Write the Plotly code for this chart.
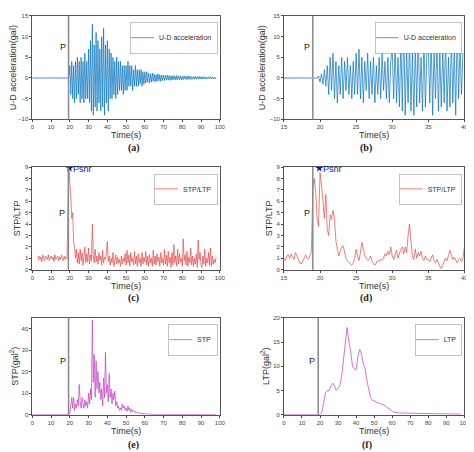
import numpy as np
import plotly.graph_objects as go

# (a) U-D acceleration, 0.5 s steps from 19.5 s
acc_a = [0, 3, -4, 4, -5, 3, -6, 4, -5, 5, -4, 4, -6, 5, -5, 4, -6, 6, -5, 4, -5,
         7, -6, 9, -8, 13, -9, 8, -7, 11, -8, 9, -6, 7, -8, 10, -7, 12, -9, 8, -6,
         9, -8, 7, -5, 6, -5, 5, -4, 4, -5, 5, -4, 4, -3, 4, -3, 3, -4, 3, -3,
         3, -3, 4, -2, 3, -2, 3, -3, 2, -2, 3, -2, 2, -2, 2, -1.5, 2, -2, 1.5, -1.5,
         1.5, -1.2, 1.5, -1, 1.2, -1.2, 1, -1, 1.2, -0.8, 1, -1, 0.8, -0.8, 1, -0.7, 0.8, -0.8, 0.7, -0.6,
         0.7, -0.6, 0.6, -0.5, 0.7, -0.5, 0.6, -0.6, 0.5, -0.5, 0.6, -0.4, 0.5, -0.5, 0.6, -0.4,
         0.5, -0.4, 0.5, -0.5, 0.4, -0.4, 0.5, -0.3, 0.4, -0.4, 0.5, -0.3, 0.4, -0.4, 0.3, -0.3,
         0.4, -0.3, 0.4, -0.3, 0.3, -0.3, 0.4, -0.2, 0.3, -0.3, 0.3, -0.2, 0.3, -0.3, 0.2, -0.2,
         0.3, -0.2, 0.3, -0.2, 0.2, -0.2, 0.2, -0.2, 0.2]
# (b) zoom, 0.2 s steps from 19.6 s
acc_b = [0, 0.5, -1, 1, -1.5, 2, -2,
         3, -4, 5, -3, 6, -5, 4, -6, 3, -4, 5, -5, 4, -3, 5, -4, 3, -5, 4, -4,
         6, -4, 7, -5, 5, -6, 4, -3, 6, -5, 4, -4, 5, -6, 3, -4, 5, -5, 6, -3, 4, -5, 5, -6, 4,
         7, -5, 8, -6, 5, -7, 9, -8, 13, -9, 7, -6, 10, -8, 6, -9, 8, -7, 11, -6, 5, -8, 9, -7, 6,
         8, -6, 10, -9, 7, -5, 9, -8, 6, -7, 8, -6, 10, -8, 5, -7, 9, -6, 7, -9, 12, -5, 8, -4, 6]
# (c) STP/LTP, 0.5 s steps from 3 s
ratio_c = [0.8, 1.2, 0.9, 1.1, 0.7, 1.3, 1.0, 0.8, 1.2, 1.1, 0.9, 1.3, 0.8, 1.0, 1.2, 0.9,
           1.1, 0.7, 1.3, 0.9, 1.0, 1.2, 0.8, 1.1, 0.9, 1.3, 1.0, 0.8, 1.2, 0.9, 1.1, 1.0,
           5.5, 9, 7.5, 6.5, 4.5, 5, 2.5, 2, 1, 1.8, 0.6, 1.5,
           0.5, 1.8, 0.8, 1.5, 0.4, 1.2, 2.0, 0.6, 1.4, 0.7, 1.9, 0.5, 1.3, 0.8, 4.0, 1.2, 0.6, 1.8, 0.7, 1.2,
           0.5, 1.5, 0.8, 1.2, 0.4, 1.7, 0.6, 1.1, 0.9, 1.4, 2.5, 0.7, 1.2, 0.4, 1.0, 0.6, 1.5, 0.3,
           0.9, 1.3, 0.5, 1.1, 0.6, 0.9, 0.3, 1.2, 0.5, 1.0, 0.7, 1.4,
           0.4, 1.7, 0.6, 1.3, 0.3, 1.5, 0.7, 1.0, 0.4, 1.6, 0.5, 1.2, 0.3, 1.4, 0.6, 1.0, 0.3, 1.5, 0.5, 1.1,
           0.7, 1.6, 0.4, 1.2, 0.3, 1.3, 0.6, 1.0, 0.3, 1.7, 0.5, 1.2, 0.4, 1.4, 0.7, 1.1, 0.3, 1.5, 0.6, 1.0,
           0.4, 1.8, 0.5, 1.3, 0.3, 1.6, 0.6, 1.1, 0.2, 1.5, 0.4, 2.2, 0.6, 1.2, 0.3, 1.8, 0.5, 1.4, 0.7,
           1.0, 0.3, 2.7, 0.8, 1.3, 0.4, 1.6, 0.3, 1.1, 0.6, 1.9, 0.4, 1.2, 0.3, 1.0, 0.5, 1.4, 0.2, 2.6,
           0.9, 1.5, 0.4, 0.2, 1.2, 0.5, 1.8, 0.3, 1.0, 0.6, 1.5, 0.4, 1.9, 0.3, 1.2, 0.5, 0.9, 0.6, 1.1]
# (d) zoom, 0.2 s steps from 15 s
ratio_d = [1.0, 0.8, 1.2, 1.3, 1.0, 1.4, 1.1, 0.9, 1.5, 1.2, 0.8, 0.6, 0.5, 0.7, 1.0, 1.3, 1.0, 0.9, 1.2, 1.6,
           7.0, 8.0, 6.8, 4.5, 3.8, 8.5, 7.5, 5.5, 4.5, 6.6, 3.5, 3.0, 4.8, 4.4, 5.2,
           4.5, 2.5, 1.8, 1.2, 1.6, 2.0, 2.1, 1.5, 1.0, 0.8, 0.6, 0.5, 0.4, 0.6, 1.0,
           1.8, 1.2, 0.8, 1.5, 2.4, 1.8, 1.2, 1.0, 0.8, 0.9, 1.2, 0.7, 0.6, 0.4, 0.6, 0.8, 0.7, 0.9, 0.8, 1.0,
           1.4, 1.2, 1.6, 1.3, 2.0,
           1.2, 0.9, 1.4, 1.7, 1.0, 1.5, 1.8, 2.0, 1.4, 2.0, 1.5, 3.0, 4.0, 2.5, 1.2, 0.9, 1.8, 1.0, 1.5, 1.2,
           1.6, 1.0, 0.8, 1.2, 0.9,
           0.9, 0.7, 1.0, 1.3, 0.8, 0.6, 0.9, 0.5, 0.3, 0.1, 0.4, 0.7, 1.0, 0.8, 1.2, 1.7, 1.3, 0.9, 1.1, 0.8,
           0.6, 0.9, 1.0, 0.7, 1.0, 2.0]
# (e) STP, 0.5 s steps from 19.5 s
stp = [0, 1, 6, 8, 3, 8, 2, 5, 3, 7, 4,
       14, 6, 3, 8, 5, 3, 7, 4, 6, 3,
       10, 5, 12, 7, 44, 15, 28, 8, 25, 12,
       20, 10, 15, 7, 12, 4, 17, 8, 29, 10,
       14, 6, 19, 8, 12, 5, 10, 7, 11, 4,
       6, 3, 4, 2, 3, 2, 5, 3, 4, 2,
       3, 1.5, 4, 2, 3, 1, 2.5, 1.5, 2, 1, 1.5, 0.8, 1.2, 0.6, 1, 0.5, 0.8, 0.4, 0.6, 0.3,
       0.5, 0.3, 0.4, 0.2, 0.3, 0.2, 0.2, 0.1, 0.2, 0.1, 0.1, 0.1, 0.1, 0.05, 0.05, 0.05, 0.05, 0.03, 0.03, 0.02]
# (f) LTP, 1 s steps from 19 s
ltp = [0, 0, 0.5, 2.5, 4.5, 5, 5, 5.8, 6.5, 6, 5, 5.5, 6, 8, 11, 14, 18, 15, 13, 10, 9.5, 9.3,
       12, 13.5, 12.5, 10.5, 9.5, 7, 5, 3.5, 3, 2.8, 2.6, 2.5, 2.3, 2.2, 2.1, 1.8, 1.5, 1.2, 0.9,
       0.7, 0.5, 0.4, 0.35, 0.35, 0.34, 0.33, 0.32, 0.31, 0.3, 0.3, 0.29, 0.28, 0.27, 0.26, 0.25,
       0.25, 0.24, 0.23, 0.22, 0.21, 0.2, 0.2, 0.19, 0.18, 0.17, 0.16, 0.15, 0.15, 0.14, 0.13,
       0.12, 0.12, 0.11, 0.11, 0.1, 0.1, 0.1, 0.1]

BLUE = "#0072BD"
RED = "rgb(232,70,70)"
MAG = "#C23BC2"
GRID = "#888"


def tgrid(start, step, vals):
    return list(np.round(start + step * np.arange(len(vals)), 2))


xa = [0, 19.0] + tgrid(19.5, 0.5, acc_a)
ya = [0, 0] + acc_a
xb = [15, 19.4] + tgrid(19.6, 0.2, acc_b)
yb = [0, 0] + acc_b
xe = [0, 19.0] + tgrid(19.5, 0.5, stp) + [98]
ye = [0, 0] + stp + [0]
xf = [0] + tgrid(19, 1, ltp)
yf = [0] + ltp

panels = [
    dict(x=xa, y=ya, c=BLUE, name="U-D acceleration", xr=[0, 100], yr=[-10, 15], dy=5,
         yt="U-D acceleration(gal)", p=19.3, py=7.5, zero=True),
    dict(x=xb, y=yb, c=BLUE, name="U-D acceleration", xr=[15, 40], yr=[-10, 15], dy=5,
         yt="U-D acceleration(gal)", p=19.0, py=7.5, zero=True),
    dict(x=tgrid(3, 0.5, ratio_c), y=ratio_c, c=RED, name="STP/LTP", xr=[0, 100], yr=[0, 9], dy=1,
         yt="STP/LTP", p=19.2, py=5.0, star=19.8),
    dict(x=tgrid(15, 0.2, ratio_d), y=ratio_d, c=RED, name="STP/LTP", xr=[15, 40], yr=[0, 9], dy=1,
         yt="STP/LTP", p=19.0, py=5.0, star=19.9),
    dict(x=xe, y=ye, c=MAG, name="STP", xr=[0, 100], yr=[0, 45], dy=10,
         yt="STP(gal<sup>2</sup>)", p=19.3, py=25),
    dict(x=xf, y=yf, c=MAG, name="LTP", xr=[0, 100], yr=[0, 20], dy=5,
         yt="LTP(gal<sup>2</sup>)", p=19.0, py=11),
]

xdoms = [[0.046, 0.449], [0.587, 0.975]]
ydoms = [[0.757, 0.989], [0.42, 0.65], [0.095, 0.312]]
letters = ["(a)", "(b)", "(c)", "(d)", "(e)", "(f)"]
label_y = [0.675, 0.338, 0.008]

fig = go.Figure()
layout = {}
for i, p in enumerate(panels):
    n = i + 1
    sfx = "" if n == 1 else str(n)
    row, col = i // 2, i % 2
    lg = "legend" + sfx
    fig.add_trace(go.Scatter(x=p["x"], y=p["y"], mode="lines", name=p["name"],
                             line=dict(color=p["c"], width=0.7),
                             xaxis="x" + sfx, yaxis="y" + sfx, legend=lg))
    ax = dict(showline=True, linecolor="#555", linewidth=0.8, mirror=True, ticks="outside",
              ticklen=2, tickfont=dict(size=6, color="#444"), showgrid=False, zeroline=False)
    step = 10 if p["xr"][0] == 0 else 5
    layout["xaxis" + sfx] = dict(ax, domain=xdoms[col], range=p["xr"], anchor="y" + sfx,
                                 tickvals=list(range(p["xr"][0], p["xr"][1] + 1, step)),
                                 title=dict(text="Time(s)", font=dict(size=9, color="#333"), standoff=1))
    layout["yaxis" + sfx] = dict(ax, domain=ydoms[row], range=p["yr"], anchor="x" + sfx, dtick=p["dy"],
                                 title=dict(text=p["yt"], font=dict(size=9, color="#333"), standoff=2))
    layout[lg] = dict(x=xdoms[col][1] - 0.005, y=ydoms[row][1] - 0.015, xanchor="right", yanchor="top",
                      font=dict(size=7, color="#333"), bgcolor="white", bordercolor="#999",
                      borderwidth=0.6, tracegroupgap=0, itemwidth=30,
                      indentation=-12)
    fig.add_shape(type="line", x0=p["p"], x1=p["p"], y0=0, y1=1, xref="x" + sfx,
                  yref="y" + sfx + " domain", line=dict(color=GRID, width=1.5))
    if p.get("zero"):
        fig.add_shape(type="line", x0=p["xr"][0], x1=p["x"][1], y0=0, y1=0, xref="x" + sfx,
                      yref="y" + sfx, line=dict(color="#9cc3e0", width=1))
    fig.add_annotation(x=p["p"], y=p["py"], xref="x" + sfx, yref="y" + sfx, text="P",
                       showarrow=False, xanchor="right", xshift=-1, font=dict(size=9, color="#222"))
    if p.get("star"):
        fig.add_trace(go.Scatter(x=[p["star"]], y=[8.9], mode="markers", showlegend=False,
                                 marker=dict(symbol="star", size=6, color="#1010d0"),
                                 xaxis="x" + sfx, yaxis="y" + sfx))
        fig.add_annotation(x=p["star"], y=8.85, xref="x" + sfx, yref="y" + sfx, text="Psnr",
                           showarrow=False, xanchor="left", xshift=2,
                           font=dict(size=9, color="#1010d0"))
    fig.add_annotation(x=sum(xdoms[col]) / 2, y=label_y[row], xref="paper", yref="paper",
                       yanchor="bottom", text="<b>" + letters[i] + "</b>", showarrow=False,
                       font=dict(family="Liberation Serif", size=10, color="#222"))

fig.update_layout(width=474, height=452, margin=dict(l=0, r=0, t=0, b=0),
                  plot_bgcolor="white", paper_bgcolor="white",
                  font=dict(family="Liberation Sans"), **layout)
fig.write_html("out.html")
